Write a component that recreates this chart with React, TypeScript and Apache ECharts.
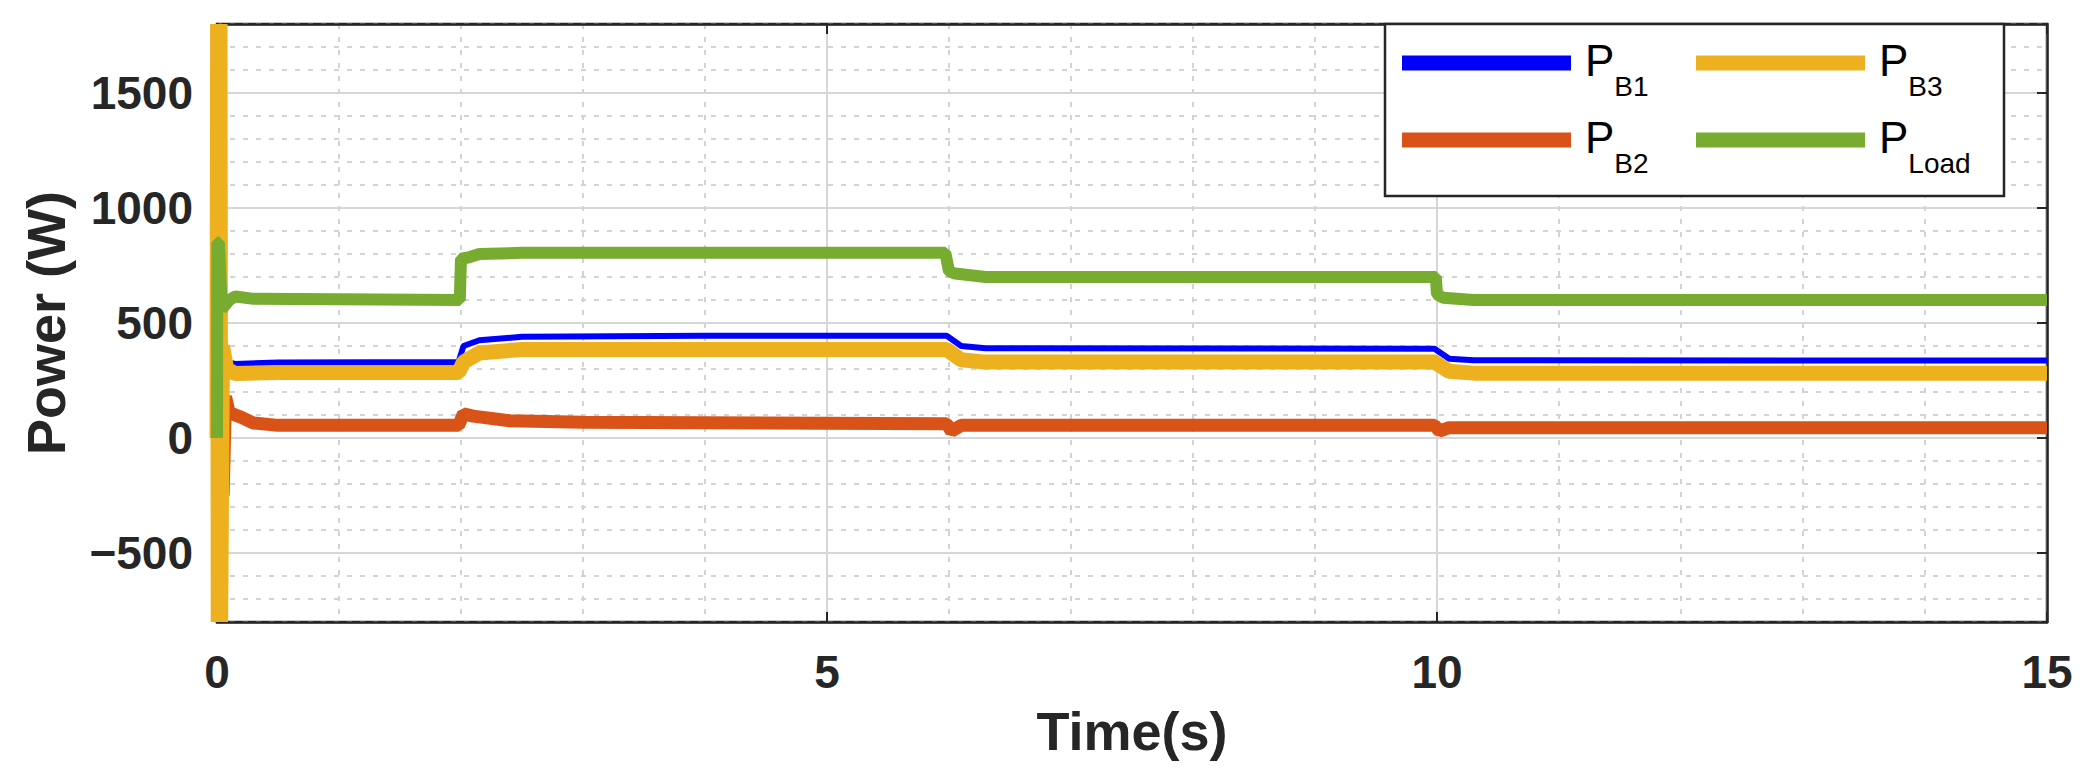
import React, { useEffect, useRef } from "react";
import * as echarts from "echarts";

// ---- data ----
const timeB1 = [0.04, 0.06, 0.08, 0.15, 0.5, 1.98, 2.02, 2.15, 2.5, 4, 5.98, 6.1, 6.3, 9.98, 10.1, 10.3, 15];
const powerB1 = [350, 420, 330, 322, 328, 330, 400, 425, 440, 445, 445, 400, 390, 388, 345, 338, 337];

const timeB2 = [0.04, 0.05, 0.07, 0.1, 0.2, 0.3, 0.5, 1.98, 2.02, 2.1, 2.4, 3, 5.98, 6.02, 6.1, 9.98, 10.02, 10.1, 15];
const powerB2 = [0, -250, 180, 110, 90, 65, 55, 55, 105, 95, 75, 68, 62, 30, 55, 55, 30, 45, 45];

const timeB3 = [0, 0.005, 0.01, 0.015, 0.02, 0.025, 0.03, 0.045, 0.08, 0.15, 0.5, 1.98, 2.02, 2.15, 2.5, 5.98, 6.1, 6.3, 9.98, 10.1, 10.3, 15];
const powerB3 = [0, 1800, -800, 1800, -800, 1800, -800, 400, 300, 280, 285, 285, 330, 370, 385, 385, 340, 330, 330, 290, 282, 282];

const timeLoad = [0, 0.003, 0.015, 0.04, 0.1, 0.15, 0.3, 1.99, 2.0, 2.06, 2.15, 2.5, 5.97, 6.0, 6.05, 6.3, 9.99, 10.0, 10.05, 10.3, 15];
const powerLoad = [0, 850, 850, 560, 600, 615, 605, 600, 780, 785, 800, 805, 805, 725, 715, 700, 700, 625, 610, 600, 600];

const majorY = [-500, 0, 500, 1000, 1500];
const yRange = [-800, 1800];
const xRange = [0, 15];

const seriesNames = ["PB1", "PB2", "PB3", "PLoad"];
const seriesColors = ["#0000FF", "#D95319", "#EDB120", "#77AC30"];

const pairs = (t: number[], v: number[]) => t.map((x, i) => [x, v[i]]);

const FONT = "'Liberation Sans', Arial, Helvetica, sans-serif";
const INK = "#262626";

export default function App() {
  const ref = useRef<HTMLDivElement>(null);
  useEffect(() => {
    if (!ref.current) return;
    const chart = echarts.init(ref.current, null, { renderer: "svg" });
    const minorLine = { color: "#d3d3d3", width: 2, type: [5, 8] as any };
    const borderLine = { show: true, onZero: false, lineStyle: { color: INK, width: 2.5 } };
    const legendText = {
      fontFamily: FONT,
      color: "#000",
      rich: {
        p: { fontSize: 44, lineHeight: 50, verticalAlign: "top", padding: [0, 0, 0, 9], fontFamily: FONT, color: "#000" },
        s: { fontSize: 28, lineHeight: 30, verticalAlign: "top", padding: [34, 0, 0, 0], fontFamily: FONT, color: "#000" },
      },
    };
    const legendFmt = (name: string) => `{p|P}{s|${name.slice(1)}}`;
    const dataSets = [
      pairs(timeB1, powerB1),
      pairs(timeB2, powerB2),
      pairs(timeB3, powerB3),
      pairs(timeLoad, powerLoad),
    ];
    const widths = [6, 13, 15, 12];
    const tickAxis = (position: string, showLine: boolean) => ({
      type: "value",
      position,
      z: 1,
      min: yRange[0],
      max: yRange[1],
      interval: 100,
      axisLine: showLine ? borderLine : { show: false },
      axisTick: { show: true, inside: true, length: 10, customValues: majorY, lineStyle: { color: INK, width: 2 } },
      axisLabel: { show: false },
      splitLine: { show: false },
    });
    const option: any = {
      animation: false,
      backgroundColor: "#fff",
      grid: {
        left: 217,
        right: 45,
        top: 24,
        bottom: 152,
        show: true,
        borderColor: INK,
        borderWidth: 2.5,
        backgroundColor: "transparent",
      },
      xAxis: [
        {
          type: "value",
          min: xRange[0],
          max: xRange[1],
          interval: 5,
          z: 1,
          name: "Time(s)",
          nameLocation: "middle",
          nameGap: 82,
          nameTextStyle: { fontFamily: FONT, fontSize: 54, fontWeight: "bold", color: INK },
          axisLine: borderLine,
          axisTick: { show: true, inside: true, length: 10, lineStyle: { color: INK, width: 2 } },
          axisLabel: { fontFamily: FONT, fontSize: 46, fontWeight: "bold", color: INK, margin: 27 },
          splitLine: { show: true, lineStyle: { color: "#d6d6d6", width: 2 } },
          minorTick: { show: false, splitNumber: 5 },
          minorSplitLine: { show: true, lineStyle: minorLine },
        },
        {
          type: "value",
          position: "top",
          z: 1,
          min: xRange[0],
          max: xRange[1],
          interval: 5,
          axisLine: borderLine,
          axisTick: { show: true, inside: true, length: 10, lineStyle: { color: INK, width: 2 } },
          axisLabel: { show: false },
          splitLine: { show: false },
        },
      ],
      yAxis: [
        {
          type: "value",
          min: yRange[0],
          max: yRange[1],
          interval: 100,
          name: "Power (W)",
          nameLocation: "middle",
          nameGap: 144,
          nameTextStyle: { fontFamily: FONT, fontSize: 54, fontWeight: "bold", color: INK },
          axisLine: { show: false },
          axisTick: { show: false },
          axisLabel: {
            fontFamily: FONT,
            fontSize: 46,
            fontWeight: "bold",
            color: INK,
            margin: 24,
            formatter: (v: number) => (v % 500 === 0 ? String(v).replace("-", "\u2212") : ""),
          },
          splitLine: { show: true, lineStyle: minorLine },
        },
        tickAxis("left", true),
        tickAxis("right", true),
      ],
      legend: [
        {
          data: ["PB1", "PB2"],
          orient: "vertical",
          left: 1402,
          top: 38,
          padding: 0,
          itemGap: 15,
          itemWidth: 169,
          itemHeight: 15,
          icon: "rect",
          formatter: legendFmt,
          textStyle: legendText,
          selectedMode: false,
        },
        {
          data: ["PB3", "PLoad"],
          orient: "vertical",
          left: 1696,
          top: 38,
          padding: 0,
          itemGap: 15,
          itemWidth: 169,
          itemHeight: 15,
          icon: "rect",
          formatter: legendFmt,
          textStyle: legendText,
          selectedMode: false,
        },
      ],
      graphic: [
        {
          type: "rect",
          z: 3,
          shape: { x: 1385, y: 24, width: 619, height: 172 },
          style: { fill: "#fff", stroke: INK, lineWidth: 2.5 },
          silent: true,
        },
      ],
      series: [
        {
          name: "grid-major",
          type: "line",
          z: 1,
          data: [],
          silent: true,
          markLine: {
            z: 1,
            silent: true,
            symbol: "none",
            label: { show: false },
            lineStyle: { color: "#d6d6d6", width: 2, type: "solid" },
            data: majorY.map((v) => ({ yAxis: v })),
          },
        },
        ...seriesNames.map((name, i) => ({
          name,
          type: "line",
          data: dataSets[i],
          showSymbol: false,
          symbol: "none",
          color: seriesColors[i],
          lineStyle: { color: seriesColors[i], width: widths[i], cap: "butt", join: "bevel" },
          itemStyle: { color: seriesColors[i] },
          z: 2 + i * 0.01,
        })),
      ],
    };
    chart.setOption(option);
    return () => chart.dispose();
  }, []);
  return <div ref={ref} style={{ position: "fixed", left: 0, top: 0, width: 2092, height: 774 }} />;
}
